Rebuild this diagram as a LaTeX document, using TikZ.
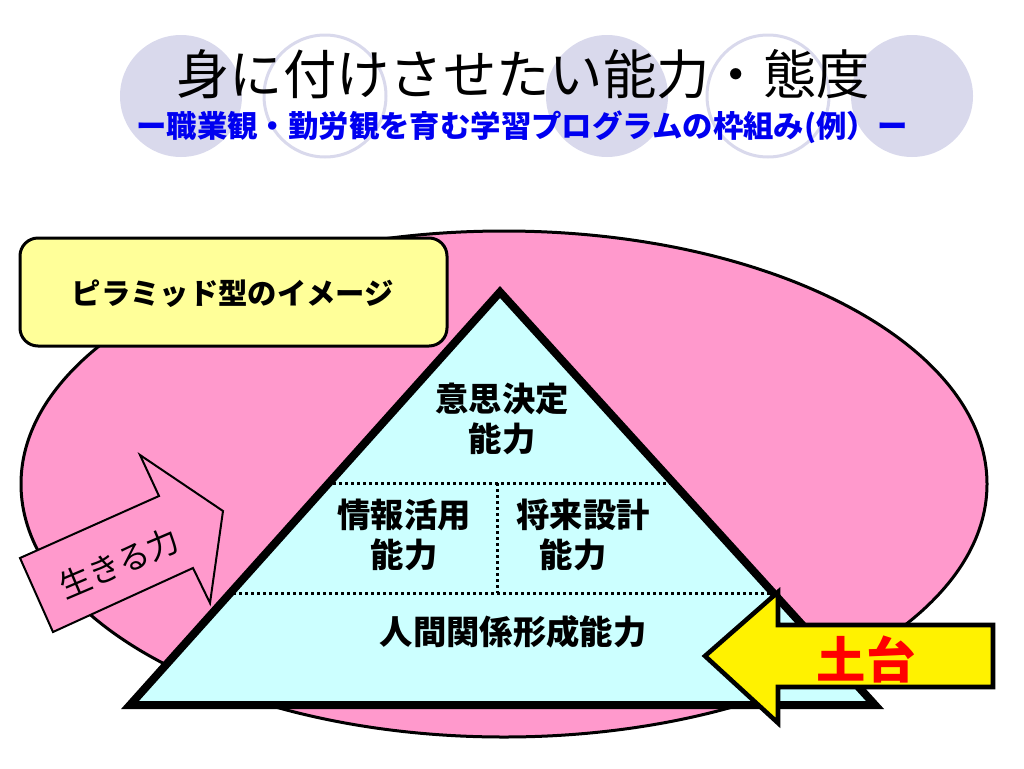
\documentclass[tikz,border=0pt]{standalone}
\usepackage{fontspec}
\newfontfamily\jpfont{Noto Sans CJK JP}
\definecolor{lavender}{RGB}{217,217,236}
\definecolor{pinkfill}{RGB}{255,153,204}
\definecolor{paleyellow}{RGB}{255,255,153}
\definecolor{palecyan}{RGB}{204,255,255}
\definecolor{subblue}{RGB}{0,0,240}
\tikzset{
  bubble/.style={fill=lavender},
  ring/.style={draw=lavender,line width=2.25pt,fill=white},
  jtext/.style={font=\jpfont\bfseries\fontsize{25}{30}\selectfont,align=center},
  divider/.style={line width=2.25pt,dash pattern=on 2.25pt off 2.25pt}
}
\begin{document}
\begin{tikzpicture}[x=0.75pt,y=-0.75pt]
\useasboundingbox (0,0) rectangle (1024,768);
	% title circles
	\fill[bubble] (181,96) circle (61);
	\draw[ring] (325,96) circle (61);
	\fill[bubble] (607,96) circle (61);
	\draw[ring] (768,96) circle (61);
	\fill[bubble] (912,96) circle (61);
	% title
	\node[font=\jpfont\fontsize{40}{46}\selectfont] (title) at (523,74) {身に付けさせたい能力・態度};
	\node[font=\jpfont\bfseries\fontsize{22.8}{26}\selectfont,text=subblue] (subtitle) at (522,127) {ー職業観・勤労観を育む学習プログラムの枠組み(例）ー};
	% pink ellipse and label box
	\draw[fill=pinkfill,line width=2.25pt] (504,484) ellipse (483 and 253);
	\draw[fill=paleyellow,line width=2.25pt,rounded corners=13.5pt] (20,238) rectangle (447,346);
	\node[jtext,font=\jpfont\bfseries\fontsize{22}{26}\selectfont] (image) at (233,294) {ピラミッド型のイメージ};
	% arrow: ikiru
	\draw[fill=pinkfill,line width=1.5pt,line join=miter] (20,558) -- (159,496) -- (140,455) -- (223,511) -- (210,603) -- (193,568) -- (53,632) -- cycle;
	\node[jtext,font=\jpfont\fontsize{24}{28}\selectfont,rotate=23] (ikiru) at (119,563) {生きる力};
	% pyramid
	\fill[palecyan] (130,705) -- (500,292) -- (875,705) -- cycle;
	\draw[divider] (327,483) -- (670,483);
	\draw[divider] (227,593) -- (773,593);
	\draw[divider] (497,483) -- (497,593);
	\draw[line width=6pt,line join=miter] (130,705) -- (500,292) -- (875,705) -- cycle;
	\node[jtext] (ishi) at (502,419) {意思決定\\能力};
	\node[jtext] (joho) at (404,535) {情報活用\\能力};
	\node[jtext] (shorai) at (583,535) {将来設計\\\hspace*{-0.6em}能力};
	\node[jtext] (ningen) at (513,632) {人間関係形成能力};
	% arrow: dodai
	\draw[fill=yellow,line width=3.4pt,line join=miter] (705,656) -- (778,592) -- (778,625) -- (993,625) -- (993,687) -- (778,687) -- (778,723) -- cycle;
	\node[font=\jpfont\bfseries\fontsize{37}{42}\selectfont,text=red] (dodai) at (866,659) {土台};
\end{tikzpicture}
\end{document}
